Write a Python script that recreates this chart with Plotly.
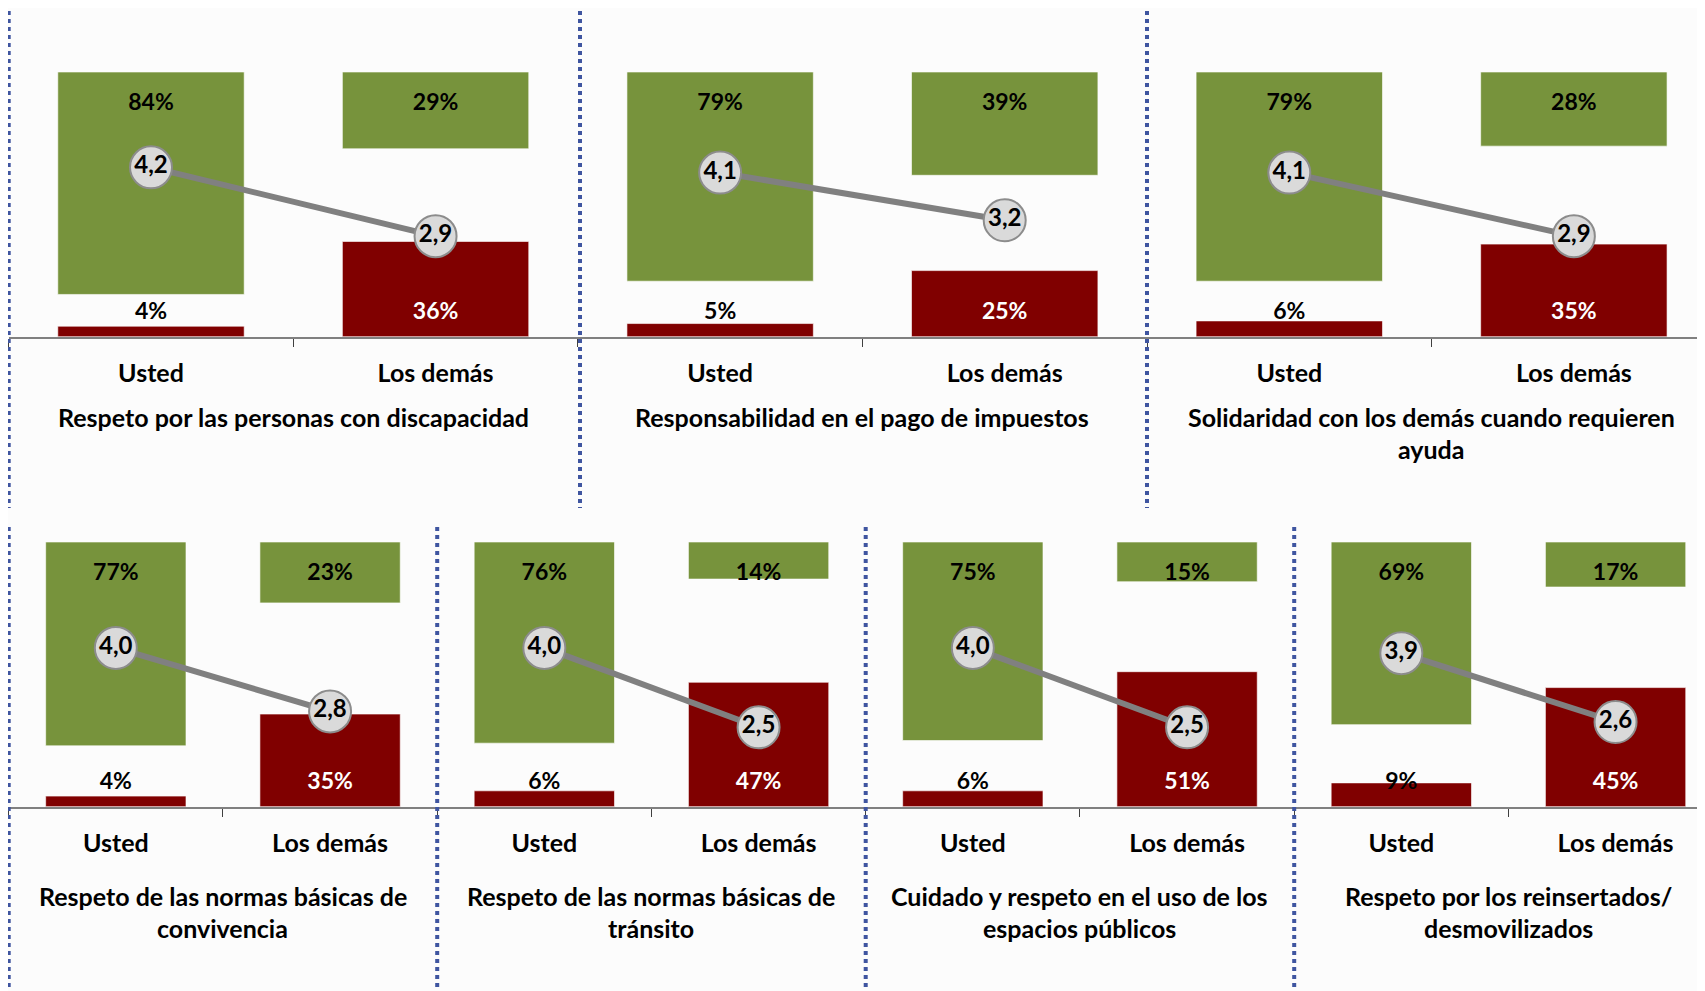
import plotly.graph_objects as go

# datos
categorias = ["Usted", "Los demás"]
titulos = [
    "Respeto por las personas con discapacidad",
    "Responsabilidad en el pago de impuestos",
    "Solidaridad con los demás cuando requieren<br>ayuda",
    "Respeto de las normas básicas de<br>convivencia",
    "Respeto de las normas básicas de<br>tránsito",
    "Cuidado y respeto en el uso de los<br>espacios públicos",
    "Respeto por los reinsertados/<br>desmovilizados",
]
positivo_usted = [84, 79, 79, 77, 76, 75, 69]
positivo_demas = [29, 39, 28, 23, 14, 15, 17]
negativo_usted = [4, 5, 6, 4, 6, 6, 9]
negativo_demas = [36, 25, 35, 35, 47, 51, 45]
promedio_usted = [4.2, 4.1, 4.1, 4.0, 4.0, 4.0, 3.9]
promedio_demas = [2.9, 3.2, 2.9, 2.8, 2.5, 2.5, 2.6]

W, H = 1705, 991
OFF = 8  # margen del body de la pagina
FW, FH = W - OFF, H - OFF
VERDE = "#77933c"
ROJO = "#800000"
FONT = "Lato"


def px(x):
    return (x - OFF) / FW


def py(y):
    return 1 - (y - OFF) / FH


# marcos de cada panel en pixeles de pantalla: izquierda, derecha, arriba, linea base
ancho_sup = (1147 - 8.7) / 2
ancho_inf = (1294.2 - 8.7) / 3
paneles = []
for k in range(3):
    paneles.append((8.7 + k * ancho_sup, 8.7 + (k + 1) * ancho_sup, 72, 336.8))
for k in range(4):
    paneles.append((8.7 + k * ancho_inf, 8.7 + (k + 1) * ancho_inf, 542, 806.7))

fig = go.Figure()
layout = {}
annotations = []

for i, (left, right, top, base) in enumerate(paneles):
    n = i + 1
    sx = "" if n == 1 else str(n)
    xr, yr, y2r = "x" + sx, "y" + sx, "y" + str(n + 7)
    x1 = min(right, W)
    rango_der = -0.5 + 2 * (x1 - left) / (right - left)

    # barras verdes colgando desde arriba
    fig.add_trace(go.Bar(
        x=categorias, y=[-positivo_usted[i], -positivo_demas[i]], base=100,
        width=0.655, marker=dict(color=VERDE, line=dict(width=1, color="rgba(255,255,255,0.6)")),
        xaxis=xr, yaxis=yr, hoverinfo="skip"))
    # barras rojas desde abajo
    fig.add_trace(go.Bar(
        x=categorias, y=[negativo_usted[i], negativo_demas[i]],
        width=0.655, marker=dict(color=ROJO, line=dict(width=1, color="rgba(255,255,255,0.6)")),
        xaxis=xr, yaxis=yr, hoverinfo="skip"))
    # etiquetas de porcentaje
    fig.add_trace(go.Scatter(
        x=categorias, y=[88.0, 88.0], mode="text",
        text=[f"{positivo_usted[i]}%", f"{positivo_demas[i]}%"],
        textfont=dict(family=FONT, size=23, color="black", weight="bold"),
        xaxis=xr, yaxis=yr, hoverinfo="skip"))
    rojos = [negativo_usted[i], negativo_demas[i]]
    fig.add_trace(go.Scatter(
        x=categorias, y=[8.8, 8.8], mode="text",
        text=[f"{v}%" for v in rojos],
        textfont=dict(family=FONT, size=23, weight="bold",
                      color=["white" if v >= 15 else "black" for v in rojos]),
        xaxis=xr, yaxis=yr, hoverinfo="skip"))
    # linea de promedio
    prom = [promedio_usted[i], promedio_demas[i]]
    fig.add_trace(go.Scatter(
        x=categorias, y=prom, mode="lines+markers+text",
        text=[f"{v:.1f}".replace(".", ",") for v in prom],
        textposition="middle center",
        textfont=dict(family=FONT, size=24, color="black", weight="bold"),
        line=dict(color="#808080", width=6),
        marker=dict(size=42, color="#dadada", line=dict(color="#8c8c8c", width=2)),
        xaxis=xr, yaxis=y2r, hoverinfo="skip"))

    layout["xaxis" + sx] = dict(
        domain=[px(left), px(x1)], range=[-0.5, rango_der], type="category",
        anchor=yr, showline=True, linecolor="#808080", linewidth=2,
        ticks="outside", tickson="boundaries", ticklen=8, tickcolor="#404040", tickwidth=1,
        ticklabelstandoff=13,
        tickfont=dict(family=FONT, size=25, color="black", weight="bold"),
        showgrid=False, zeroline=False, fixedrange=True)
    layout["yaxis" + sx] = dict(
        domain=[py(base), py(top)], range=[0, 100], anchor=xr,
        visible=False, fixedrange=True)
    layout["yaxis" + str(n + 7)] = dict(
        overlaying=yr, range=[1, 6], anchor=xr, side="right",
        visible=False, fixedrange=True)

    # titulo del panel
    y_linea = 416.6 if i < 3 else 896
    for j, linea in enumerate(titulos[i].split("<br>")):
        annotations.append(dict(
            text=linea, xref="paper", yref="paper",
            x=px((left + right) / 2), y=py(y_linea + 32 * j),
            xanchor="center", yanchor="middle", showarrow=False,
            font=dict(family=FONT, size=25, color="black", weight="bold")))

# separadores punteados
shapes = []
for xs in [8.7, 580, 1147]:
    shapes.append(dict(type="line", xref="paper", yref="paper",
                       x0=px(xs), x1=px(xs), y0=py(11), y1=py(508),
                       line=dict(color="#3f55a0", width=4, dash="dot")))
for xs in [8.7, 437.2, 865.7, 1294.2]:
    shapes.append(dict(type="line", xref="paper", yref="paper",
                       x0=px(xs), x1=px(xs), y0=py(527), y1=0,
                       line=dict(color="#3f55a0", width=4, dash="dot")))

fig.update_layout(
    **layout,
    width=FW, height=FH,
    margin=dict(l=0, r=0, t=0, b=0),
    barmode="overlay", showlegend=False,
    paper_bgcolor="#fcfcfc", plot_bgcolor="rgba(0,0,0,0)",
    annotations=annotations, shapes=shapes,
)

fig.write_html("out.html")
